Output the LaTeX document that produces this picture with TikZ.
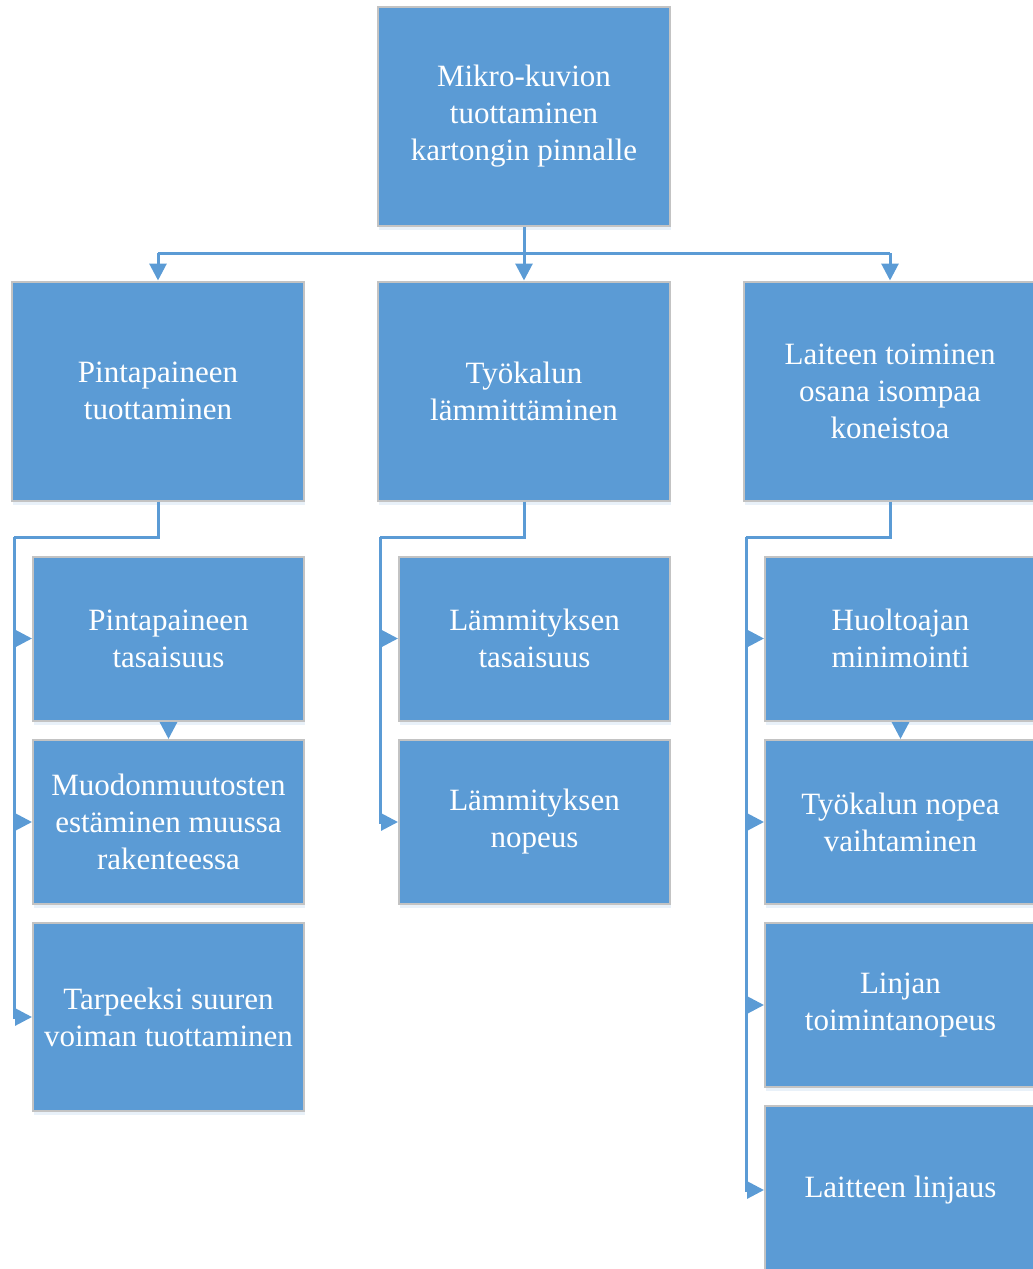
\documentclass[tikz,border=0pt]{standalone}
\usepackage{fontspec}
\setmainfont{Liberation Serif}
\usetikzlibrary{arrows.meta,shadows}
\definecolor{boxblue}{RGB}{91,155,213}
\definecolor{boxedge}{RGB}{195,195,195}
\tikzset{
  box/.style={draw=boxedge, line width=1pt, fill=boxblue, text=white, align=center, inner sep=0pt,
    font=\fontsize{15.5}{18.5}\selectfont,
    drop shadow={shadow xshift=0.5pt, shadow yshift=-2pt, fill=boxblue!30, opacity=0.45}},
  wide/.style={box, minimum width=146pt, minimum height=109.5pt},
  narrow/.style={box, minimum width=135.5pt, minimum height=82pt},
  link/.style={draw=boxblue, line width=1.5pt},
  tip/.style={link, -{Triangle[width=8.5pt,length=8.5pt]}}
}
\begin{document}
\begin{tikzpicture}[x=0.5pt,y=-0.5pt]
        \useasboundingbox (0,0) rectangle (1033,1269);
        \clip (0,0) rectangle (1033,1269);
        % top and second level
        \node[wide] (top) at (524,116.5) {Mikro-kuvion\\tuottaminen\\kartongin pinnalle};
        \node[wide] (p1) at (158,391) {Pintapaineen\\tuottaminen};
        \node[wide] (p2) at (524,391) {Työkalun\\lämmittäminen};
        \node[wide] (p3) at (890,391) {Laiteen toiminen\\osana isompaa\\koneistoa};
        % left column
        \node[narrow] (c11) at (168.5,638.5) {Pintapaineen\\tasaisuus};
        \node[narrow] (c12) at (168.5,822) {Muodonmuutosten\\estäminen muussa\\rakenteessa};
        \node[narrow, minimum height=94pt] (c13) at (168.5,1017) {Tarpeeksi suuren\\voiman tuottaminen};
        % middle column
        \node[narrow] (c21) at (534.5,638.5) {Lämmityksen\\tasaisuus};
        \node[narrow] (c22) at (534.5,822) {Lämmityksen\\nopeus};
        % right column
        \node[narrow] (c31) at (900.5,638.5) {Huoltoajan\\minimointi};
        \node[narrow] (c32) at (900.5,822) {Työkalun nopea\\vaihtaminen};
        \node[narrow] (c33) at (900.5,1005) {Linjan\\toimintanopeus};
        \node[narrow, minimum height=84pt] (c34) at (900.5,1190) {Laitteen linjaus};
        % connectors
        \coordinate (bus) at (524,253);
        \draw[tip] (top.south) -- (p2.north);
        \draw[link] (p1.north |- bus) -- (p3.north |- bus);
        \draw[tip] (p1.north |- bus) -- (p1.north);
        \draw[tip] (p3.north |- bus) -- (p3.north);
        \coordinate (e1) at (14,537);
        \coordinate (e2) at (380,537);
        \coordinate (e3) at (746,537);
        \draw[link] (p1.south) |- (e1);
        \draw[link] (p2.south) |- (e2);
        \draw[link] (p3.south) |- (e3);
        \foreach \c in {c11,c12,c13} \draw[tip] (e1) |- (\c.west);
        \foreach \c in {c21,c22} \draw[tip] (e2) |- (\c.west);
        \foreach \c in {c31,c32,c33,c34} \draw[tip] (e3) |- (\c.west);
        \draw[tip] (c11.south) -- (c12.north);
        \draw[tip] (c31.south) -- (c32.north);
\end{tikzpicture}
\end{document}
